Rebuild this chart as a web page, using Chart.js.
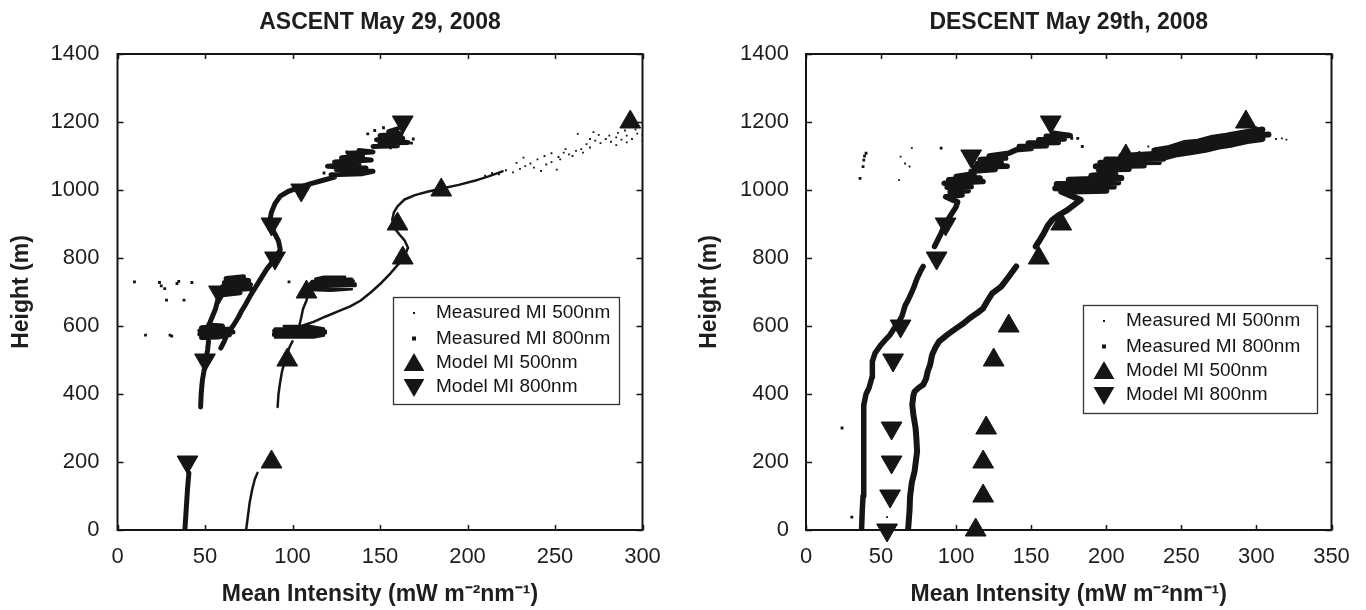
<!DOCTYPE html>
<html>
<head>
<meta charset="utf-8">
<script src="https://cdn.jsdelivr.net/npm/chart.js@4.4.1/dist/chart.umd.min.js"></script>
<style>
  html, body { margin: 0; padding: 0; background: #fff; }
  #wrap { display: flex; width: 1366px; height: 610px; }
  canvas { display: block; }
</style>
</head>
<body>
<div id="wrap">
  <canvas id="ascent" width="683" height="610"></canvas>
  <canvas id="descent" width="683" height="610"></canvas>
</div>
<script>
// ---- data: [mean intensity, height]; null = gap in the trace ----
const legendLabels = ["Measured MI 500nm", "Measured MI 800nm", "Model MI 500nm", "Model MI 800nm"];

// ASCENT
const ascent800Trace = [
  [38.5,0],[39,40],[39.5,80],[40,120],[40.8,168], null,
  [47.5,362],[47.8,400],[48.5,440],[49.5,470],[50.5,500],[51.5,530],[52,555], null,
  [48,566],[58,568],[64,574],[47,576],[66,582],[47,586],[65,590],[48,595],[60,600],[52,603], null,
  [52,600],[54,625],[56,650],[57,670],[58,690], null,
  [60,692],[70,698],[59,704],[76,710],[60,716],[76,722],[61,728],[75,734],[62,740],[72,745], null,
  [59,535],[61,555],[63,580],[66,600],[69,625],[71,645],[73,662],[76,690],[79,715],[82,740],[85,765],
  [88,785],[91,805],[93,825],[92,850],[90,870],[88,890],[87,910],[88,935],[90,960],[93,982],[98,997],
  [104,1008],[110,1018],[117,1028],[124,1038], null,
  [122,1045],[140,1048],[146,1055],[125,1060],[142,1065],[120,1070],[138,1076],[124,1082],[145,1088],
  [128,1095],[140,1100],[132,1108],[146,1112],[138,1116], null,
  [146,1128],[160,1130],[150,1138],[166,1140],[148,1148],[163,1152],[150,1160],[162,1165],[155,1172],[160,1180]
];
const ascent800Dots = [
  [9.7,730],[24,728],[25,718],[27,710],[34,725],[35,731],[42.5,728],[28,676],[38,676],[98,730],
  [16,573],[30,573],[31,570],[143,1165],[147,1175],[152,1183],[168,1138],[169,1150],[156,1124],
  [134,1050],[131,1112],[118,1050]
];
const ascent500Trace = [
  [73.5,0],[74.5,40],[75.5,80],[77,120],[78.5,150],[80,168], null,
  [91.5,362],[92,400],[92.8,430],[94,466],[96.5,515],[98.5,540],[100,555], null,
  [90,566],[112,566],[118,572],[89,572],[89,579],[119,579],[119,586],[89,586],[90,593],[118,593],[110,600],[95,600], null,
  [104,603],[105,625],[106,650],[108,675],[109,700], null,
  [110,706],[122,704],[134,708],[110,712],[110,718],[136,718],[136,725],[110,725],[111,732],[135,732],
  [134,739],[113,739],[118,745],[130,745], null,
  [105,600],[112,612],[119,628],[126,643],[133,658],[139,675],[145,700],[151,728],[156,755],[161,785],
  [164,805],[166,830],[164,852],[161,870],[158,890],[157,913],[158,935],[160,952],[164,972],[170,985],
  [177,995],[186,1005],[195,1015],[204,1027],[212,1040],[220,1055]
];
const ascent500Dots = [
  [205,1030],[210,1042],[214,1050],[218,1046],[222,1058],[226,1052],[230,1062],[233,1070],[236,1078],
  [238,1066],[242,1056],[245,1075],[248,1082],[251,1060],[253,1090],[228,1080],[232,1095],[240,1090],
  [244,1100],[248,1108],[252,1097],[255,1110],[258,1105],[262,1115],[260,1100],[265,1120],[268,1135],
  [270,1125],[273,1145],[276,1138],[279,1150],[282,1142],[285,1155],[288,1148],[291,1160],[294,1150],
  [297,1166],[300,1162],[286,1168],[281,1160],[275,1162],[270,1150],[266,1110],[256,1120],[263,1165],
  [272,1170],[290,1175],[296,1178],[300,1145],[291,1140],[285,1132]
];
const ascentModel500 = [[88,200],[97,500],[108,700],[163,800],[160,900],[185,1000],[293,1200]];
const ascentModel800 = [[40,200],[50,500],[58,700],[90,800],[88,900],[105,1000],[163,1200]];

// DESCENT
const descent800Trace = [
  [37,0],[37.5,60],[38,100],[38.3,150],[38.5,200],[38.5,260],[38.5,320],[38.6,368],[40,400],[42,418],
  [44,450],[44.4,466],[44,496],[46,520],[50,545],[53,560],[56,574],[59,595],[62,613],[64,630],[66,660],
  [68,676],[70,695],[72,716],[74,740],[76.7,765],[78,775], null,
  [85.6,834],[88,855],[90,873],[92,893],[94.4,912],[97,930],[100,951],[101,965],
  [98,970],[93,980],[104,985],[96,995],[108,998],[94,1008],[110,1010],[92,1020],[118,1025],[95,1030],
  [116,1035],[100,1040],[112,1048],
  [110,1055],[126,1060],[112,1068],[134,1070],[114,1078],[130,1082],[116,1090],[133,1094],[122,1100],[135,1108],
  [140,1118],[150,1122],[142,1128],[160,1130],[148,1138],[168,1140],[155,1148],[172,1150],[160,1158],
  [176,1160],[165,1167]
];
const descent800Dots = [
  [36,1034],[38,1069],[38.5,1088],[39,1100],[40,1108],[90,1123],[181,1152],[184,1128],[177,1152],
  [24,300],[30.5,38]
];
const descent500Trace = [
  [68,0],[69,60],[69.3,98],[70.5,140],[72.3,172],[74,231],[73.5,270],[73,299],[71.5,340],[70.8,368],
  [71.5,395],[72.3,407],[75,418],[78,427],[80,445],[81,466],[82.6,485],[84,515],[86,535],[88.5,554],
  [94,574],[100,593],[105,608],[109,623],[114,638],[118,652],[121,675],[124,696],[130,716],[135,745],[140,775], null,
  [153,834],[156,855],[158.4,873],[161,895],[164,912],[169,928],[174,941],[179,958],[183,971],
  [170,995],[200,998],[166,1005],[205,1010],[167,1018],[208,1022],[175,1030],[210,1035],[190,1042],[206,1049],
  [195,1060],[215,1062],[193,1070],[225,1072],[196,1080],[235,1082],[200,1090],[238,1092],[210,1100],[232,1106], null,
  [218,1078],[228,1088],[236,1092],[246,1104],[255,1110],[266,1118],[275,1128],[284,1134],[294,1144],[304,1150], null,
  [222,1095],[232,1106],[241,1110],[250,1122],[260,1128],[270,1138],[279,1146],[289,1152],[298,1160],[308,1163], null,
  [232,1116],[242,1124],[252,1138],[261,1142],[271,1154],[280,1160],[290,1168],[298,1174],[304,1178]
];
const descent500Dots = [
  [54,38],[313,1150],[317,1152],[320,1148],[300,1185],[228,1128],[222,1112],[213,1115],[246,1132],
  [62,1029],[63,1098],[66,1078],[69,1069],[70.5,1123]
];
const descentModel500 = [[113,0],[118,100],[118,200],[120,300],[125,500],[135,600],[155,800],[170,900],[213,1100],[293,1200]];
const descentModel800 = [[54,0],[56,100],[57,200],[57,300],[58,500],[63,600],[87,800],[93,900],[110,1100],[163,1200]];

// ---- drawing ----
const ink = "#151515";
Chart.defaults.font.family = '"Liberation Sans", Arial, Helvetica, sans-serif';
Chart.defaults.color = "#1e1e1e";

function pts(arr) {
  return arr.map(p => p ? { x: p[0], y: p[1] } : { x: null, y: null });
}
function traceSet(arr, w) {
  return { data: pts(arr), showLine: true, borderColor: ink, borderWidth: w, pointRadius: 0,
           borderJoinStyle: "round", borderCapStyle: "round", spanGaps: false };
}
function dotSet(arr, r) {
  return { data: pts(arr), pointStyle: "rect", pointRadius: r, backgroundColor: ink, borderWidth: 0 };
}
function markSet(arr, rot) {
  // markers on the axis line hang over it, so no clipping
  return { data: pts(arr), pointStyle: "triangle", rotation: rot, pointRadius: 12,
           backgroundColor: ink, borderColor: ink, borderWidth: 1, clip: false };
}

function tri(ctx, x, y, r, down) {
  const s = down ? -1 : 1;
  ctx.beginPath();
  ctx.moveTo(x, y - s * r);
  ctx.lineTo(x + r * 0.866, y + s * r / 2);
  ctx.lineTo(x - r * 0.866, y + s * r / 2);
  ctx.closePath();
  ctx.fill();
}

// plot frame, inward tick marks and the boxed legend
const frame = {
  id: "frame",
  afterDatasetsDraw(chart, args, opts) {
    const { ctx, chartArea: a, scales: { x, y } } = chart;
    ctx.save();
    ctx.strokeStyle = ink;
    ctx.lineWidth = 1.5;
    ctx.beginPath();
    x.ticks.forEach(t => {
      const p = Math.round(x.getPixelForValue(t.value)) + 0.5;
      ctx.moveTo(p, a.bottom); ctx.lineTo(p, a.bottom - 5);
      ctx.moveTo(p, a.top); ctx.lineTo(p, a.top + 5);
    });
    y.ticks.forEach(t => {
      const p = Math.round(y.getPixelForValue(t.value)) + 0.5;
      ctx.moveTo(a.left, p); ctx.lineTo(a.left + 6, p);
      ctx.moveTo(a.right, p); ctx.lineTo(a.right - 6, p);
    });
    ctx.stroke();
    ctx.lineWidth = 2;
    ctx.strokeRect(a.left, a.top, a.right - a.left, a.bottom - a.top);

    const lb = opts.box;
    const bx = a.right - lb.right - lb.width;
    const by = lb.top;
    ctx.fillStyle = "#fff";
    ctx.fillRect(bx, by, lb.width, lb.height);
    ctx.strokeStyle = "#333";
    ctx.lineWidth = 1.3;
    ctx.strokeRect(bx + 0.5, by + 0.5, lb.width, lb.height);
    const rows = [16, 41.5, 66, 90];
    ctx.fillStyle = ink;
    ctx.font = '19px "Liberation Sans", Arial, sans-serif';
    ctx.textBaseline = "middle";
    ctx.textAlign = "left";
    legendLabels.forEach((lab, i) => {
      const cy = by + rows[i];
      const mx = bx + 21;
      if (i === 0) ctx.fillRect(mx - 1, cy - 1, 2, 2);
      else if (i === 1) ctx.fillRect(mx - 2, cy - 2, 4, 4);
      else tri(ctx, mx, cy + (i === 2 ? 2 : -2), 12, i === 3);
      ctx.fillText(lab, bx + 43, cy);
    });
    ctx.restore();
  }
};

function panel(id, cfg) {
  const titleFont = { size: 23, weight: "bold" };
  return new Chart(document.getElementById(id), {
    type: "scatter",
    data: {
      datasets: [
        traceSet(cfg.m500, cfg.w500), dotSet(cfg.d500, 1.3),
        traceSet(cfg.m800, cfg.w800), dotSet(cfg.d800, 2),
        markSet(cfg.mod500, 0), markSet(cfg.mod800, 180)
      ]
    },
    options: {
      responsive: false,
      animation: false,
      events: [],
      layout: { padding: { left: 0, right: cfg.padRight, top: 0, bottom: 0 } },
      plugins: {
        legend: { display: false },
        tooltip: { enabled: false },
        title: { display: true, text: cfg.title, fullSize: false, font: titleFont, color: "#1e1e1e",
                 padding: { top: 9, bottom: 17.4 } },
        frame: { box: cfg.legendBox }
      },
      scales: {
        x: {
          type: "linear", min: 0, max: cfg.xMax,
          afterFit: s => { s.height = 80; },
          grid: { display: false, drawTicks: false }, border: { display: false },
          ticks: { stepSize: 50, padding: 13.8, font: { size: 22 }, callback: v => String(v) },
          title: { display: true, text: "Mean Intensity (mW m\u207B\u00B2nm\u207B\u00B9)", font: titleFont,
                   padding: { top: 0, bottom: 1.2 } }
        },
        y: {
          type: "linear", min: 0, max: 1400,
          afterFit: s => { s.width = cfg.yWidth; },
          grid: { display: false, drawTicks: false }, border: { display: false },
          ticks: { stepSize: 200, padding: cfg.yTickPad, font: { size: 22 }, callback: v => String(v) },
          title: { display: true, text: "Height (m)", font: titleFont,
                   padding: { top: cfg.yTitlePad, bottom: 0 } }
        }
      }
    },
    plugins: [frame]
  });
}

panel("ascent", {
  title: "ASCENT May 29, 2008", xMax: 300,
  m500: ascent500Trace, d500: ascent500Dots, m800: ascent800Trace, d800: ascent800Dots,
  mod500: ascentModel500, mod800: ascentModel800, w500: 2.5, w800: 5,
  yWidth: 117.5, padRight: 40.5, yTickPad: 18, yTitlePad: 8.2,
  legendBox: { right: 23.5, top: 297, width: 226, height: 107 }
});
panel("descent", {
  title: "DESCENT May 29th, 2008", xMax: 350,
  m500: descent500Trace, d500: descent500Dots, m800: descent800Trace, d800: descent800Dots,
  mod500: descentModel500, mod800: descentModel800, w500: 6, w800: 5.5,
  yWidth: 123, padRight: 34.5, yTickPad: 17, yTitlePad: 12.7,
  legendBox: { right: 14.5, top: 305, width: 234, height: 108 }
});
</script>
</body>
</html>
